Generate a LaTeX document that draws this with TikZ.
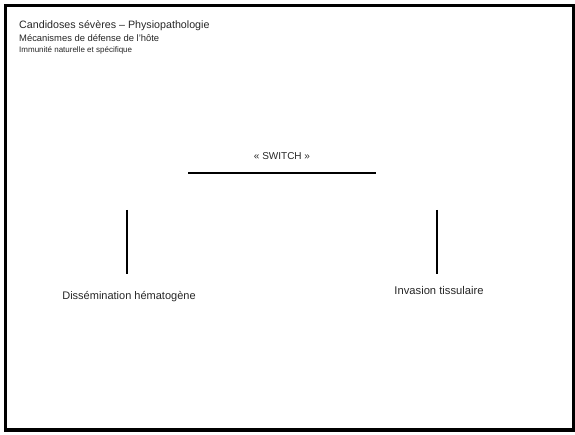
\documentclass[tikz,border=0pt]{standalone}
\usepackage{fontspec}
\setmainfont{Liberation Sans}
\begin{document}
\begin{tikzpicture}[x=1pt,y=-1pt,
  txt/.style={inner sep=0pt, text=black!85},
  bar/.style={line width=2pt, black}]
\useasboundingbox (0,0) rectangle (575,435);
\draw[line width=3.6pt] (5.5,5.5) rectangle (573.5,430);
% headers
\node[txt, anchor=base west, font=\fontsize{10.7}{13}\selectfont] (t1) at (19,29) {Candidoses sévères -- Physiopathologie};
\node[txt, anchor=base west, font=\fontsize{9.4}{11}\selectfont] (t2) at (19,42) {Mécanismes de défense de l'hôte};
\node[txt, anchor=base west, font=\fontsize{8}{9}\selectfont] (t3) at (19,53) {Immunité naturelle et spécifique};
% switch
\node[txt, font=\fontsize{10}{12}\selectfont] (sw) at (282,156) {« SWITCH »};
\coordinate (h1) at (188,173);
\coordinate (h2) at (376,173);
\draw[bar] (h1) -- (h2);
% left branch
\coordinate (l1) at (127,210);
\coordinate (l2) at (127,274);
\draw[bar] (l1) -- (l2);
\node[txt, font=\fontsize{11}{13}\selectfont] (dh) at (129,297) {Dissémination hématogène};
% right branch
\coordinate (r1) at (437,210);
\coordinate (r2) at (437,274);
\draw[bar] (r1) -- (r2);
\node[txt, font=\fontsize{11.2}{13}\selectfont] (it) at (439,290) {Invasion tissulaire};
\end{tikzpicture}
\end{document}
